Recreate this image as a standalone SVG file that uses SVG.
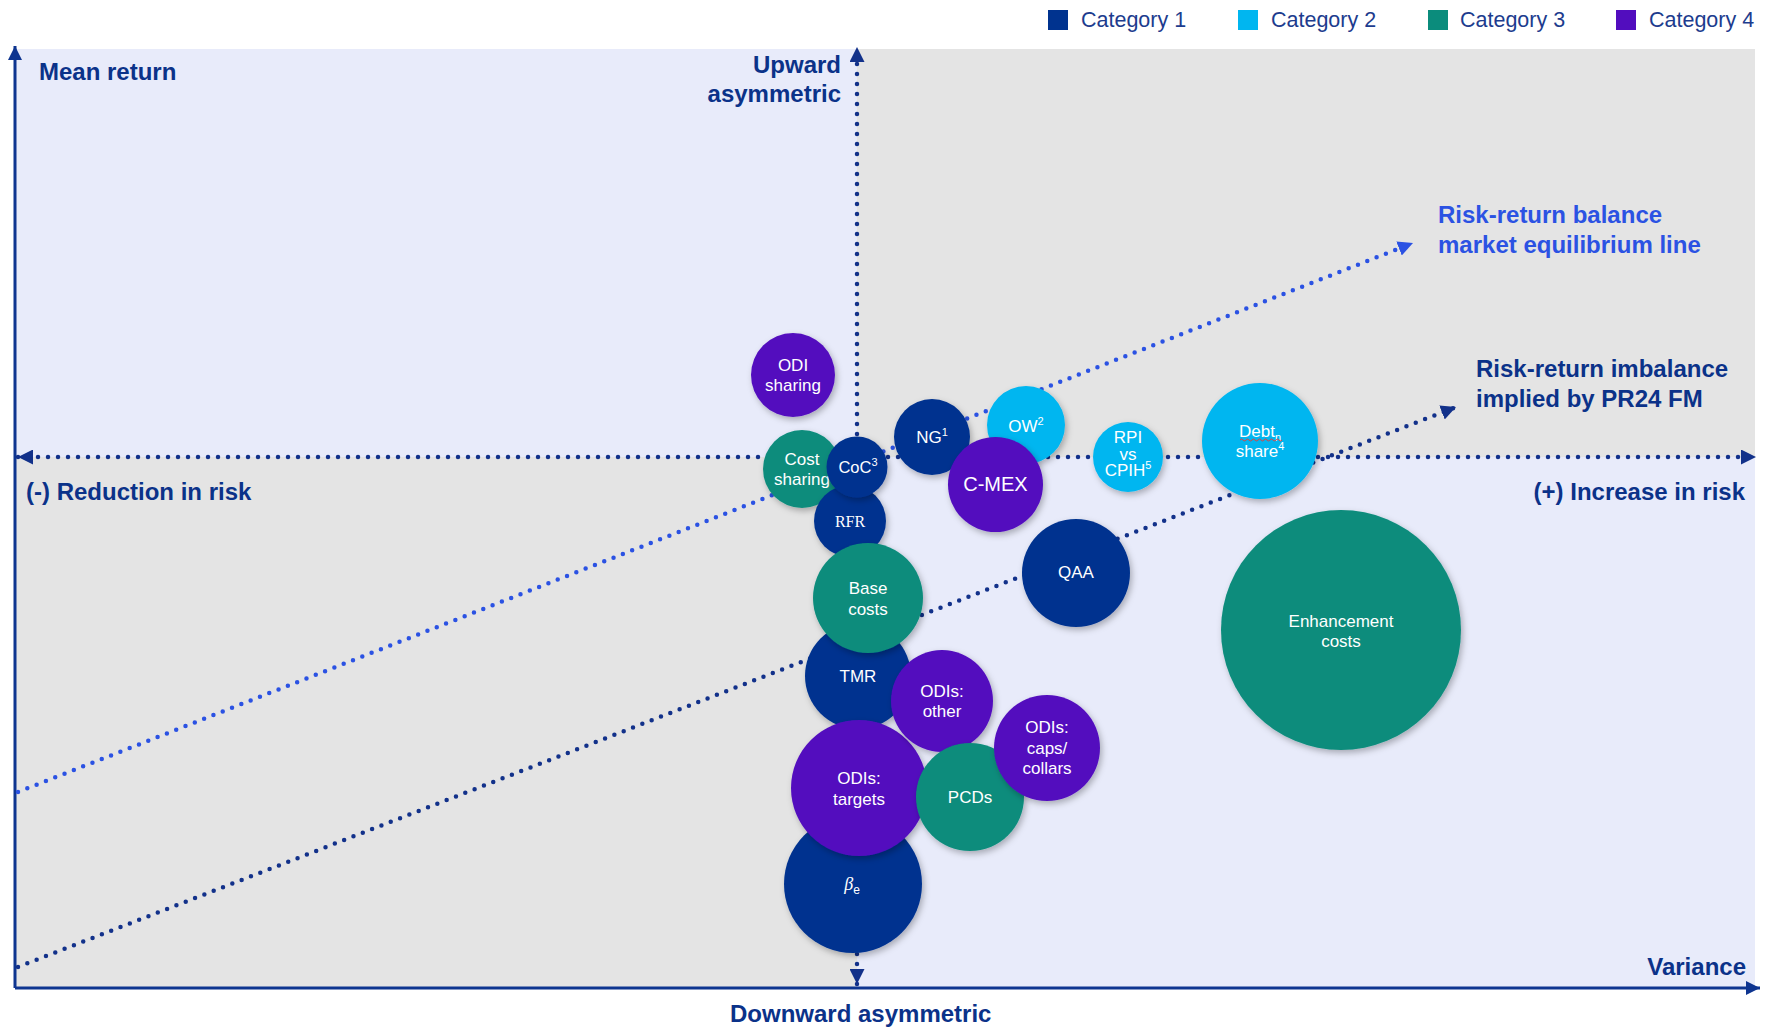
<svg xmlns="http://www.w3.org/2000/svg" width="1765" height="1028" viewBox="0 0 1765 1028">
<defs>
<style>
.lab{font-family:"Liberation Sans",Arial,sans-serif;font-weight:bold;font-size:24px;fill:#0B3289;}
.lab.blue{fill:#2B52E3;}
.leg{font-family:"Liberation Sans",Arial,sans-serif;font-size:21.5px;fill:#1D3C8E;}
.c1{fill:#00338F;}
.c2{fill:#00B6F0;}
.c3{fill:#0B8C7C;}
.c4{fill:#520DBE;}
.b{filter:url(#sh);}
.w{font-family:"Liberation Sans",Arial,sans-serif;font-size:17px;fill:#FFFFFF;text-anchor:middle;}
.dot{fill:none;stroke-width:4.5;stroke-linecap:round;stroke-dasharray:0 10;}
.dk{stroke:#12318A;}
.lb{stroke:#2B52E3;}
.axis{stroke:#0E3590;stroke-width:3;fill:none;}
</style>
<filter id="sh" x="-20%" y="-20%" width="150%" height="150%">
<feDropShadow dx="2" dy="3" stdDeviation="3" flood-color="#000" flood-opacity="0.28"/>
</filter>
<marker id="ad" viewBox="0 0 10 10" refX="10" refY="5" markerWidth="15" markerHeight="15" markerUnits="userSpaceOnUse" orient="auto-start-reverse"><path d="M0,0 L10,5 L0,10 z" fill="#12318A"/></marker>
<marker id="ab" viewBox="0 0 10 10" refX="10" refY="5" markerWidth="15" markerHeight="15" markerUnits="userSpaceOnUse" orient="auto-start-reverse"><path d="M0,0 L10,5 L0,10 z" fill="#2B52E3"/></marker>
<marker id="ax" viewBox="0 0 10 10" refX="10" refY="5" markerWidth="15" markerHeight="14" markerUnits="userSpaceOnUse" orient="auto-start-reverse"><path d="M0,0 L10,5 L0,10 z" fill="#0E3590"/></marker>
</defs>

<rect width="1765" height="1028" fill="#FFFFFF"/>
<g id="quadrants">
<rect x="15" y="49" width="842" height="408" fill="#E8EBFA"/>
<rect x="857" y="49" width="898" height="408" fill="#E4E4E4"/>
<rect x="15" y="457" width="842" height="531" fill="#E4E4E4"/>
<rect x="857" y="457" width="898" height="531" fill="#E8EBFA"/>
</g>

<g id="legend">
<rect x="1048" y="10" width="20" height="20" class="c1"/>
<text x="1081" y="27" class="leg">Category 1</text>
<rect x="1238" y="10" width="20" height="20" class="c2"/>
<text x="1271" y="27" class="leg">Category 2</text>
<rect x="1428" y="10" width="20" height="20" class="c3"/>
<text x="1460" y="27" class="leg">Category 3</text>
<rect x="1616" y="10" width="20" height="20" class="c4"/>
<text x="1649" y="27" class="leg">Category 4</text>
</g>

<g id="connectors">
<path class="axis" d="M15,988 L15,46" marker-end="url(#ax)"/>
<path class="axis" d="M15,988 L1760,988" marker-end="url(#ax)"/>
<path class="dot dk" d="M18,457 L1756,457" marker-start="url(#ad)" marker-end="url(#ad)"/>
<path class="dot dk" d="M857,984 L857,47" marker-start="url(#ad)" marker-end="url(#ad)"/>
<path class="dot lb" d="M18,792 L1413,243" marker-end="url(#ab)"/>
<path class="dot dk" d="M18,967 L1456,407" marker-end="url(#ad)"/>
</g>

<g id="axis-labels">
<text x="39" y="80" class="lab">Mean return</text>
<text x="841" y="73" class="lab" text-anchor="end">Upward</text>
<text x="841" y="102" class="lab" text-anchor="end">asymmetric</text>
<text x="26" y="500" class="lab">(-) Reduction in risk</text>
<text x="1745" y="500" class="lab" text-anchor="end">(+) Increase in risk</text>
<text x="1746" y="975" class="lab" text-anchor="end">Variance</text>
<text x="730" y="1022" class="lab">Downward asymmetric</text>
<text x="1438" y="223" class="lab blue">Risk-return balance</text>
<text x="1438" y="253" class="lab blue">market equilibrium line</text>
<text x="1476" y="377" class="lab">Risk-return imbalance</text>
<text x="1476" y="407" class="lab">implied by PR24 FM</text>
</g>

<g id="odi-sharing"><circle cx="793" cy="375" r="42" class="c4 b"/><text x="793" y="371" class="w">ODI</text><text x="793" y="391" class="w">sharing</text></g>
<g id="cost-sharing"><circle cx="802" cy="469" r="39" class="c3 b"/><text x="802" y="465" class="w">Cost</text><text x="802" y="485" class="w">sharing</text></g>
<g id="rfr"><circle cx="850" cy="521" r="36" class="c1 b"/><text x="850" y="527" class="w" style="font-family:'Liberation Serif','Times New Roman',serif;font-size:16px">RFR</text></g>
<g id="coc"><circle cx="857" cy="467" r="30.5" class="c1 b"/><text x="858" y="473" class="w" style="font-size:16.5px">CoC<tspan font-size="11" dy="-7">3</tspan></text></g>
<g id="tmr"><circle cx="858" cy="676" r="53" class="c1 b"/><text x="858" y="682" class="w">TMR</text></g>
<g id="base-costs"><circle cx="868" cy="598" r="55" class="c3 b"/><text x="868" y="594" class="w">Base</text><text x="868" y="615" class="w">costs</text></g>
<g id="beta-e"><circle cx="853" cy="884" r="69" class="c1 b"/><text x="852" y="890" class="w" style="font-family:'Liberation Serif','Times New Roman',serif;font-style:italic;font-size:18px">β<tspan dy="4" style="font-family:'Liberation Sans',Arial,sans-serif;font-style:normal;font-size:12px">e</tspan></text></g>
<g id="odis-targets"><circle cx="859" cy="788" r="68" class="c4 b"/><text x="859" y="784" class="w">ODIs:</text><text x="859" y="805" class="w">targets</text></g>
<g id="odis-other"><circle cx="942" cy="701" r="51" class="c4 b"/><text x="942" y="697" class="w">ODIs:</text><text x="942" y="717" class="w">other</text></g>
<g id="pcds"><circle cx="970" cy="797" r="54" class="c3 b"/><text x="970" y="803" class="w">PCDs</text></g>
<g id="odis-caps"><circle cx="1047" cy="748" r="53" class="c4 b"/><text x="1047" y="733" class="w">ODIs:</text><text x="1047" y="754" class="w">caps/</text><text x="1047" y="774" class="w">collars</text></g>
<g id="ng"><circle cx="932" cy="437" r="38" class="c1 b"/><text x="932" y="443" class="w">NG<tspan font-size="11" dy="-7">1</tspan></text></g>
<g id="ow"><circle cx="1026" cy="425" r="39" class="c2 b"/><text x="1026" y="432" class="w">OW<tspan font-size="11" dy="-7">2</tspan></text></g>
<g id="c-mex"><circle cx="995.5" cy="484.5" r="47.5" class="c4 b"/><text x="995.5" y="491" class="w" style="font-size:20px">C-MEX</text></g>
<g id="rpi-cpih"><circle cx="1128" cy="457" r="35" class="c2 b"/><text x="1128" y="443" class="w">RPI</text><text x="1128" y="459.5" class="w">vs</text><text x="1128" y="476" class="w">CPIH<tspan font-size="11" dy="-7">5</tspan></text></g>
<g id="debt-share"><circle cx="1260" cy="441" r="58" class="c2 b"/><text x="1260" y="437" class="w">Debt<tspan font-size="11" dy="4">n</tspan></text><path d="M1240,440 q1.5,-2 3,0 t3,0 t3,0 t3,0 t3,0 t3,0 t3,0 t3,0 t3,0 t3,0 t3,0 t3,0 t3,0 t3,0" fill="none" stroke="#E0403C" stroke-width="1"/><text x="1260" y="457" class="w">share<tspan font-size="11" dy="-7">4</tspan></text></g>
<g id="qaa"><circle cx="1076" cy="573" r="54" class="c1 b"/><text x="1076" y="578" class="w">QAA</text></g>
<g id="enhancement-costs"><circle cx="1341" cy="630" r="120" class="c3 b"/><text x="1341" y="627" class="w">Enhancement</text><text x="1341" y="647" class="w">costs</text></g>
</svg>
